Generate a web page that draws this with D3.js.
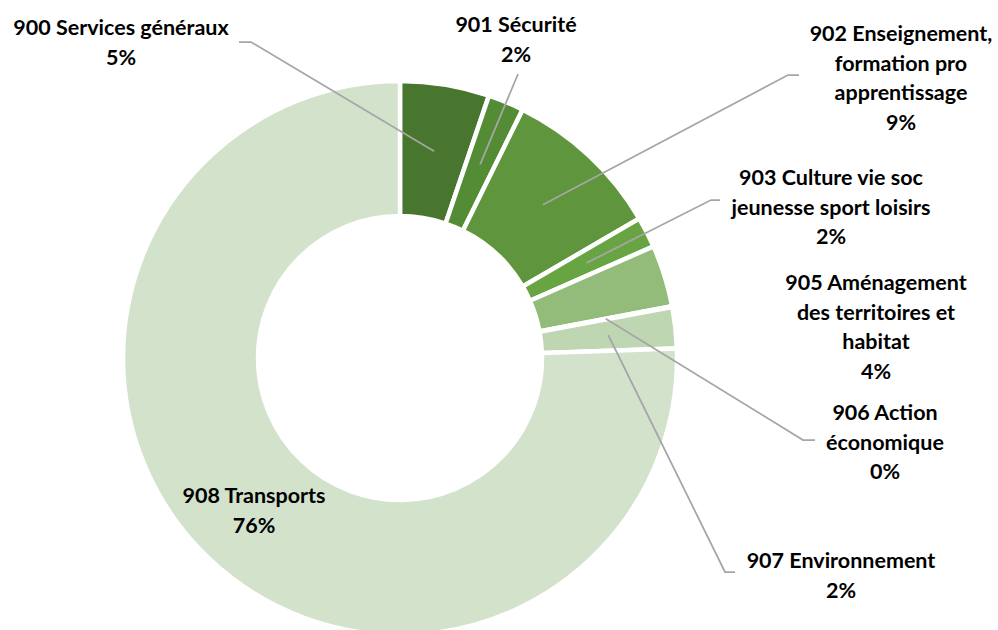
<!DOCTYPE html>
<html>
<head>
<meta charset="utf-8">
<script src="https://cdn.jsdelivr.net/npm/d3@7"></script>
<style>
  body { margin: 0; background: #fff; }
  text { font-family: Lato, "Open Sans", sans-serif; font-weight: bold; fill: #000; }
</style>
</head>
<body>
<div id="chart"></div>
<script>
// chart data
const CATEGORIES = ["900 Services généraux", "901 Sécurité", "902 Enseignement, formation pro apprentissage",
  "903 Culture vie soc jeunesse sport loisirs", "905 Aménagement des territoires et habitat",
  "906 Action économique", "907 Environnement", "908 Transports"];
const VALUES = [5.2, 2.1, 9.3, 1.8, 3.6, 0.05, 2.4, 75.55];
const LABEL_LINES = [
  ["900 Services généraux"],
  ["901 Sécurité"],
  ["902 Enseignement,", "formation pro", "apprentissage"],
  ["903 Culture vie soc", "jeunesse sport loisirs"],
  ["905 Aménagement", "des territoires et", "habitat"],
  ["906 Action", "économique"],
  ["907 Environnement"],
  ["908 Transports"]
];
const COLORS = ["#48762E", "#548C36", "#5F963D", "#69A443", "#93BC7B", "#A9CB96", "#BFD6B3", "#D2E2CB"];

// layout
const WIDTH = 998, HEIGHT = 630;
const CX = 400, CY = 358;
const R_OUT = 277, R_IN = 142;
const LINE_H = 29.5;
// label anchor: center x, first baseline y; leader points from label side toward the slice
const LABEL_POS = [
  {x: 121, y: 35, leader: [[239, 42], [251, 42]]},
  {x: 516, y: 32, leader: [[518, 74]]},
  {x: 901, y: 41, leader: [[799, 75], [788, 75]]},
  {x: 831, y: 185, leader: [[720, 200], [711, 200]]},
  {x: 876, y: 290, leader: null},
  {x: 885, y: 420, leader: [[815, 440], [803, 440]]},
  {x: 841, y: 568, leader: [[735, 572], [725, 572]]},
  {x: 254, y: 503, leader: null}
];

const SVG = d3.select("#chart")
  .append("svg")
  .attr("width", WIDTH)
  .attr("height", HEIGHT);

const PIE = d3.pie().sort(null).value((d) => d)(VALUES);
const ARC = d3.arc().innerRadius(R_IN).outerRadius(R_OUT);

const G = SVG.append("g").attr("transform", "translate(" + CX + "," + CY + ")");

G.selectAll("path.slice")
  .data(PIE)
  .enter()
  .append("path")
  .attr("class", "slice")
  .attr("d", ARC)
  .attr("fill", (d, i) => COLORS[i])
  .attr("stroke", "#fff")
  .attr("stroke-width", 4.5)
  .attr("stroke-linejoin", "miter");

// leader lines: from slice centroid (or boundary for the zero slice) to the label
PIE.forEach((d, i) => {
  const pos = LABEL_POS[i];
  if (!pos.leader) return;
  let c;
  if (d.endAngle - d.startAngle < 0.01) {
    const a = d.startAngle, r = (R_IN + R_OUT) / 2;
    c = [Math.sin(a) * r, -Math.cos(a) * r];
  } else {
    c = ARC.centroid(d);
  }
  const pts = [[c[0] + CX, c[1] + CY]].concat(pos.leader.slice().reverse());
  SVG.append("path")
    .attr("d", d3.line()(pts))
    .attr("fill", "none")
    .attr("stroke", "#A6A6A6")
    .attr("stroke-width", 1.75);
});

// labels
PIE.forEach((d, i) => {
  const pos = LABEL_POS[i];
  const lines = LABEL_LINES[i].concat([Math.round(VALUES[i]) + "%"]);
  const t = SVG.append("text")
    .attr("text-anchor", "middle")
    .attr("font-size", 21.5);
  lines.forEach((s, k) => {
    t.append("tspan")
      .attr("x", pos.x)
      .attr("y", pos.y + k * LINE_H)
      .text(s);
  });
});
</script>
</body>
</html>
